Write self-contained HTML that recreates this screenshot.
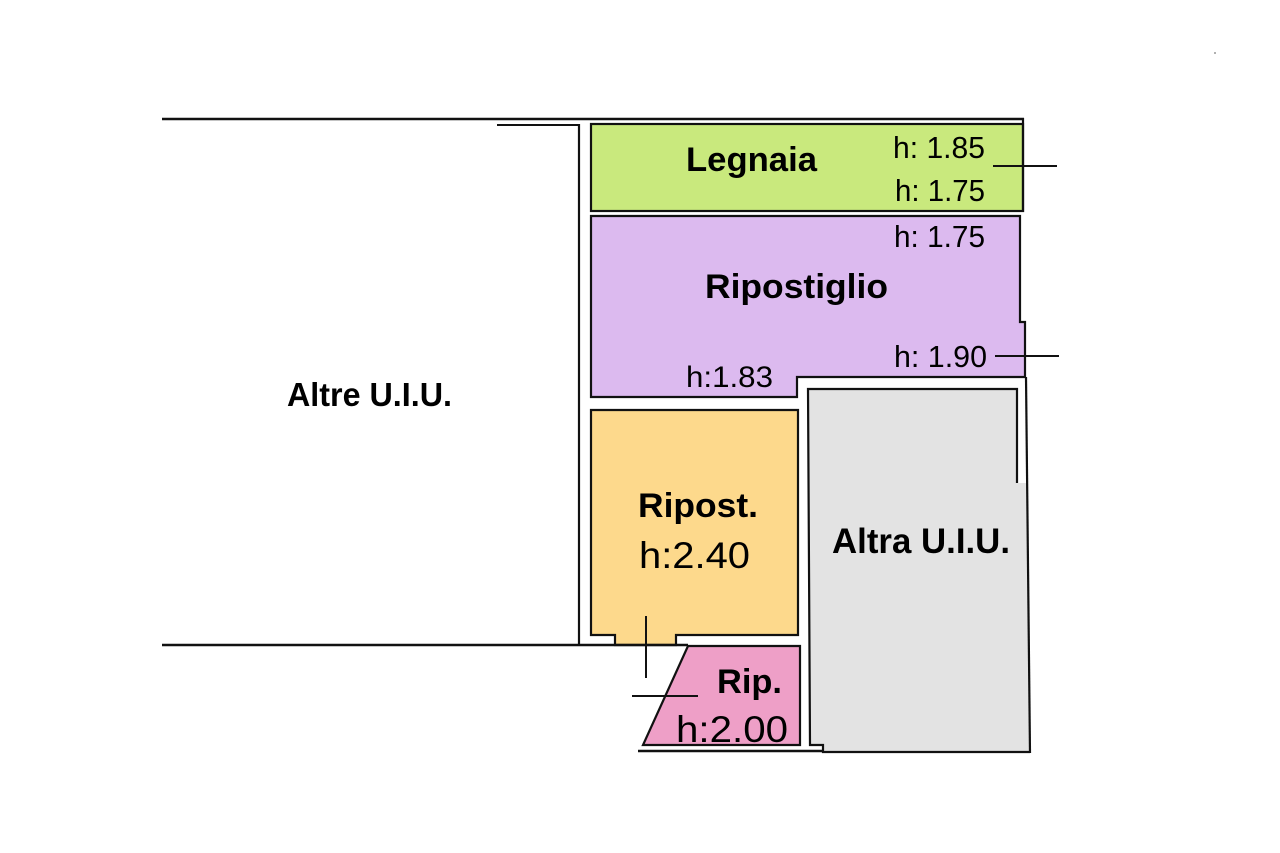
<!DOCTYPE html>
<html>
<head>
<meta charset="utf-8">
<style>
  html, body { margin: 0; padding: 0; background: #ffffff; }
  svg { display: block; }
  .b { font-family: "Liberation Sans", sans-serif; font-weight: bold; fill: #000; }
  .r { font-family: "Liberation Sans", sans-serif; font-weight: normal; fill: #000; }
</style>
</head>
<body>
<svg width="1280" height="853" viewBox="0 0 1280 853" xmlns="http://www.w3.org/2000/svg">
  <rect x="0" y="0" width="1280" height="853" fill="#ffffff"/>

  <!-- Legnaia -->
  <rect x="591" y="124" width="432" height="87" fill="#c9e97d" stroke="#111" stroke-width="2.2"/>

  <!-- Ripostiglio -->
  <polygon points="591,216 1020,216 1020,322 1025,322 1025,377 797,377 797,397 591,397" fill="#dcbaef" stroke="#111" stroke-width="2.2" stroke-linejoin="miter"/>

  <!-- Ripost. (yellow) -->
  <polygon points="591,410 798,410 798,635 676,635 676,645 615,645 615,635 591,635" fill="#fdd98c" stroke="#111" stroke-width="2.2"/>

  <!-- Rip. (pink) -->
  <polygon points="688,646 800,646 800,745 643,745" fill="#ee9fc7" stroke="#111" stroke-width="2.2"/>

  <!-- Altra U.I.U. (gray) -->
  <polygon points="808,389 1017,389 1017,483 1027,483 1030,752 823,752 823,745 810,745" fill="#e3e3e3"/>
  <polyline points="1017,483 1017,389 808,389 810,745 823,745 823,752 1030,752" fill="none" stroke="#111" stroke-width="2.2"/>

  <!-- Outer walls -->
  <line x1="162" y1="119" x2="1024" y2="119" stroke="#111" stroke-width="2.5"/>
  <line x1="497" y1="125" x2="579" y2="125" stroke="#111" stroke-width="2"/>
  <line x1="579" y1="124" x2="579" y2="645" stroke="#111" stroke-width="2.2"/>
  <line x1="162" y1="645" x2="688" y2="645" stroke="#111" stroke-width="2.5"/>
  <line x1="1023" y1="118" x2="1023" y2="212" stroke="#111" stroke-width="2.2"/>
  <line x1="1026" y1="377" x2="1030" y2="753" stroke="#111" stroke-width="2.2"/>
  <line x1="638" y1="751" x2="823" y2="751" stroke="#111" stroke-width="2.5"/>

  <!-- Connector marks -->
  <line x1="993" y1="166" x2="1057" y2="166" stroke="#111" stroke-width="2"/>
  <line x1="995" y1="356" x2="1059" y2="356" stroke="#111" stroke-width="2"/>
  <line x1="646" y1="616" x2="646" y2="678" stroke="#111" stroke-width="2"/>
  <line x1="632" y1="696" x2="698" y2="696" stroke="#111" stroke-width="2"/>

  <!-- Labels -->
  <text class="b" x="686" y="171" font-size="34" textLength="131" lengthAdjust="spacingAndGlyphs">Legnaia</text>
  <text class="r" x="893" y="158" font-size="31" textLength="92" lengthAdjust="spacingAndGlyphs">h: 1.85</text>
  <text class="r" x="895" y="201" font-size="31" textLength="90" lengthAdjust="spacingAndGlyphs">h: 1.75</text>
  <text class="r" x="894" y="247" font-size="31" textLength="91" lengthAdjust="spacingAndGlyphs">h: 1.75</text>
  <text class="b" x="705" y="298" font-size="34" textLength="183" lengthAdjust="spacingAndGlyphs">Ripostiglio</text>
  <text class="r" x="894" y="367" font-size="31" textLength="93" lengthAdjust="spacingAndGlyphs">h: 1.90</text>
  <text class="r" x="686" y="387" font-size="30" textLength="87" lengthAdjust="spacingAndGlyphs">h:1.83</text>

  <text class="b" x="287" y="406" font-size="33" textLength="165" lengthAdjust="spacingAndGlyphs">Altre U.I.U.</text>

  <text class="b" x="638" y="517" font-size="34" textLength="120" lengthAdjust="spacingAndGlyphs">Ripost.</text>
  <text class="r" x="639" y="568" font-size="37" textLength="111" lengthAdjust="spacingAndGlyphs">h:2.40</text>

  <text class="b" x="832" y="553" font-size="35" textLength="178" lengthAdjust="spacingAndGlyphs">Altra U.I.U.</text>

  <text class="b" x="717" y="693" font-size="34" textLength="65" lengthAdjust="spacingAndGlyphs">Rip.</text>
  <text class="r" x="676" y="742" font-size="37" textLength="112" lengthAdjust="spacingAndGlyphs">h:2.00</text>

  <circle cx="1215" cy="53" r="1" fill="#999"/>
</svg>
</body>
</html>
